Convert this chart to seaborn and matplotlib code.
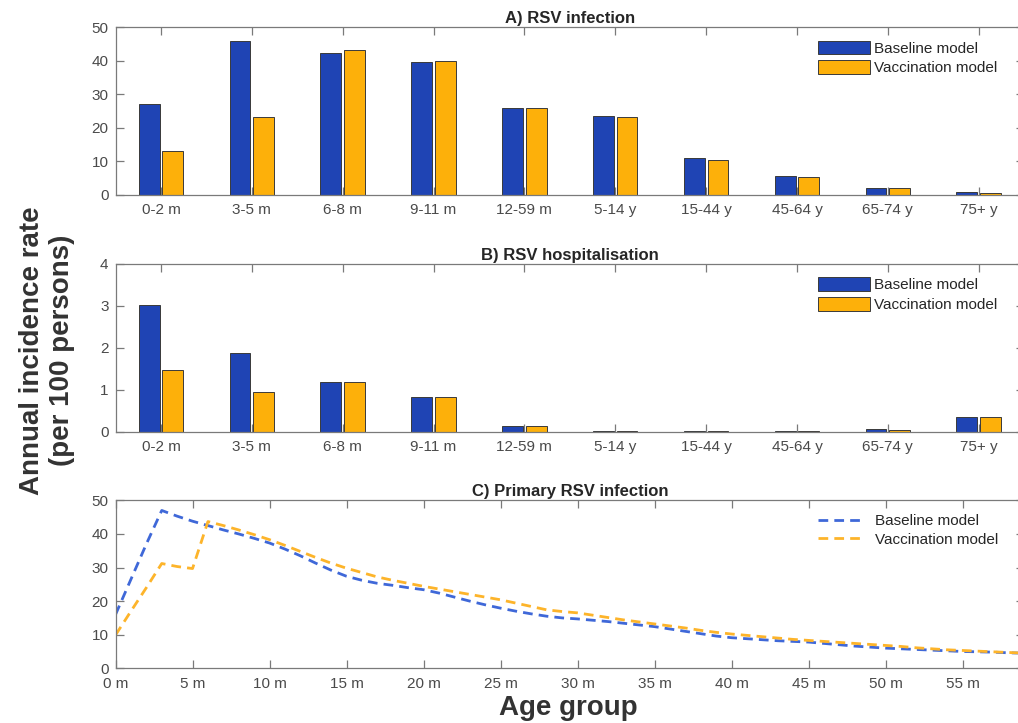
import numpy as np
import pandas as pd
import matplotlib
matplotlib.use("Agg")
import matplotlib.pyplot as plt
import seaborn as sns

# --- data ------------------------------------------------------------------
age_groups = ["0-2 m", "3-5 m", "6-8 m", "9-11 m", "12-59 m",
              "5-14 y", "15-44 y", "45-64 y", "65-74 y", "75+ y"]

inf_baseline = [27.1, 45.8, 42.3, 39.5, 26.0, 23.5, 11.1, 5.7, 2.2, 0.9]
inf_vaccine  = [13.1, 23.1, 43.3, 39.8, 26.0, 23.1, 10.4, 5.4, 2.0, 0.7]

hosp_baseline = [3.01, 1.87, 1.18, 0.82, 0.14, 0.005, 0.01, 0.01, 0.06, 0.36]
hosp_vaccine  = [1.46, 0.94, 1.19, 0.83, 0.14, 0.005, 0.01, 0.01, 0.05, 0.34]

age_months = list(range(60))
prim_baseline = [16.0, 26.5, 37.0, 47.0, 45.3, 43.8, 42.5, 41.2, 40.0, 38.7,
                 37.3, 35.5, 33.5, 31.3, 29.2, 27.4, 26.2, 25.3, 24.7, 24.0,
                 23.4, 22.4, 21.2, 20.0, 18.9, 17.9, 17.0, 16.2, 15.5, 15.0,
                 14.7, 14.3, 13.9, 13.4, 12.9, 12.4, 11.7, 11.0, 10.3, 9.6,
                 9.1, 8.8, 8.5, 8.2, 8.0, 7.8, 7.4, 7.0, 6.6, 6.3,
                 6.0, 5.8, 5.6, 5.4, 5.2, 5.0, 4.9, 4.8, 4.6, 4.5]
prim_vaccine  = [9.9, 17.0, 24.0, 31.2, 30.3, 29.7, 43.7, 42.5, 41.2, 39.8,
                 38.3, 36.6, 34.8, 33.0, 31.3, 29.8, 28.5, 27.2, 26.2, 25.3,
                 24.4, 23.6, 22.8, 22.0, 21.2, 20.4, 19.4, 18.4, 17.4, 16.9,
                 16.5, 15.8, 15.1, 14.4, 13.8, 13.2, 12.6, 12.0, 11.3, 10.7,
                 10.2, 9.8, 9.4, 9.0, 8.6, 8.3, 8.0, 7.7, 7.4, 7.1,
                 6.8, 6.5, 6.1, 5.8, 5.5, 5.3, 5.1, 4.9, 4.7, 4.5]

models = ["Baseline model", "Vaccination model"]
month_ticks = list(range(0, 60, 5))
month_labels = [f"{m} m" for m in month_ticks]

BAR_COLORS = ["#1f44b4", "#fdb00a"]
LINE_COLORS = ["#3f68d8", "#fdb42a"]
AX_GREY = "#7a7a7a"
TXT_GREY = "#4a4a4a"

sns.set_theme(style="white")
plt.rcParams["font.family"] = ["Liberation Sans", "DejaVu Sans"]


def long_df(a, b, xs, xname):
    return pd.DataFrame({
        xname: list(xs) * 2,
        "rate": list(a) + list(b),
        "model": [models[0]] * len(a) + [models[1]] * len(b),
    })


def style_axis(ax, title):
    for s in ax.spines.values():
        s.set_visible(True)
        s.set_color(AX_GREY)
        s.set_linewidth(0.9)
    ax.spines["right"].set_visible(False)   # falls off the cropped right edge
    ax.tick_params(direction="in", length=6, width=0.9, color=AX_GREY,
                   labelsize=11, labelcolor=TXT_GREY,
                   top=True, right=True, bottom=True, left=True)
    ax.tick_params(axis="x", pad=6)
    ax.tick_params(axis="y", pad=5)
    ax.set_title(title, fontsize=12, fontweight="bold", pad=3)
    ax.set_xlabel("")
    ax.set_ylabel("")


fig = plt.figure(figsize=(10.18, 7.23), dpi=100)
L, W, H = 0.1135, 0.8925, 0.2322
ax_a = fig.add_axes([L, 0.7303, W, H])
ax_b = fig.add_axes([L, 0.4029, W, H])
ax_c = fig.add_axes([L, 0.0757, W, H])

# A) and B) grouped bars
for ax, (base, vacc), top, yt, title in [
    (ax_a, (inf_baseline, inf_vaccine), 50, range(0, 51, 10), "A) RSV infection"),
    (ax_b, (hosp_baseline, hosp_vaccine), 4, range(0, 5), "B) RSV hospitalisation"),
]:
    df = long_df(base, vacc, age_groups, "age")
    sns.barplot(data=df, x="age", y="rate", hue="model", palette=BAR_COLORS,
                width=0.52, gap=0.12, edgecolor="#3a3a3a", linewidth=0.7,
                saturation=1, ax=ax)
    ax.set_xlim(-0.5, 9.5)
    ax.set_ylim(0, top)
    ax.set_yticks(list(yt))
    style_axis(ax, title)
    ax.legend(loc="upper left", bbox_to_anchor=(0.773, 0.92), frameon=False,
              fontsize=11, handlelength=3.4, handleheight=1.0,
              handletextpad=0.3, labelspacing=0.3, borderpad=0,
              borderaxespad=0)

# C) primary infection lines
df_c = long_df(prim_baseline, prim_vaccine, age_months, "month")
sns.lineplot(data=df_c, x="month", y="rate", hue="model", style="model",
             palette=LINE_COLORS, dashes={models[0]: (3.5, 2.2), models[1]: (3.5, 2.2)},
             linewidth=2.0, ax=ax_c)
ax_c.set_xlim(0, 59)
ax_c.set_ylim(0, 50)
ax_c.set_yticks(range(0, 51, 10))
ax_c.set_xticks(month_ticks)
ax_c.set_xticklabels(month_labels)
style_axis(ax_c, "C) Primary RSV infection")
ax_c.legend(loc="upper left", bbox_to_anchor=(0.773, 0.918), frameon=False,
            fontsize=11, handlelength=3.1, handletextpad=0.65,
            labelspacing=0.3, borderpad=0, borderaxespad=0)

fig.text(0.046, 0.515, "Annual incidence rate\n(per 100 persons)",
         rotation=90, ha="center", va="center", fontsize=20,
         fontweight="bold", color="#333333", linespacing=1.2)
fig.text(0.558, 0.021, "Age group", ha="center", va="center",
         fontsize=20, fontweight="bold", color="#333333")

fig.savefig("out.png", dpi=100)
